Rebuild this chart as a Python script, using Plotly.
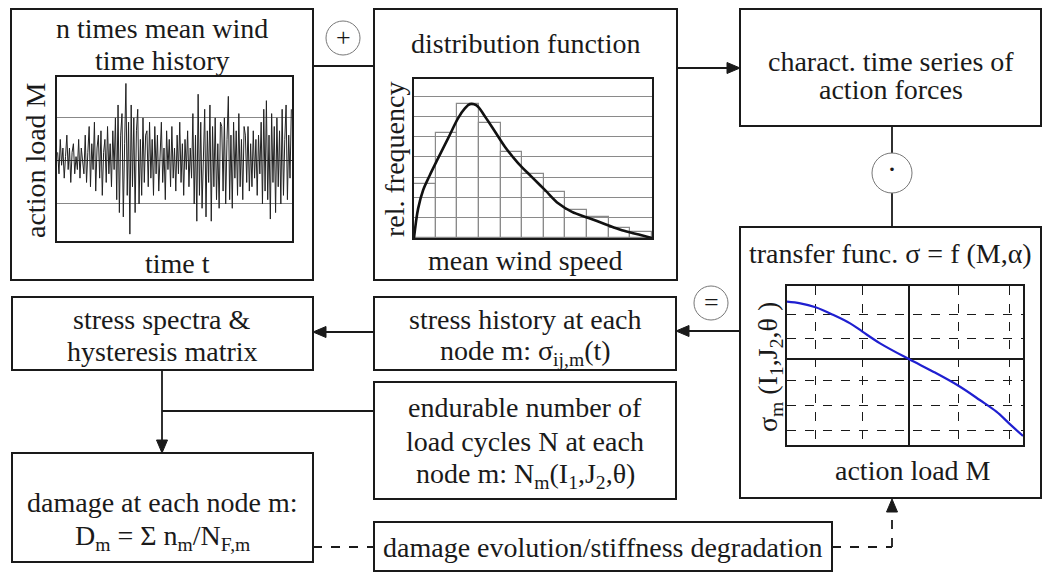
import plotly.graph_objects as go

# ---------------- data ----------------
# time history of action load M (relative units, read by eye)
load_history = [
    0.2,-0.3,0.5,-0.1,0.3,-0.4,0.1,0.6,-0.2,0.3,-0.5,0.2,0.4,-0.3,0.1,-0.2,0.5,-0.4,0.3,0.0,-0.3,0.6,-0.5,0.2,
    0.8,-0.6,0.4,-0.2,0.9,-0.7,0.3,0.6,-0.4,0.7,-0.8,0.2,0.5,-0.5,0.8,-0.3,0.4,-0.6,0.7,-0.2,
    1.0,-0.9,1.3,-1.2,0.6,1.1,-1.3,0.4,1.8,-0.8,0.9,-1.7,1.3,-0.6,1.0,-1.2,0.7,1.2,-1.0,0.5,-0.8,1.0,-0.5,0.6,
    0.7,-0.6,0.9,-0.4,0.5,-0.8,0.8,-0.3,0.6,-0.7,0.4,0.9,-0.5,0.3,-0.9,0.7,-0.2,0.5,-0.6,0.8,-0.4,0.3,-0.7,0.6,
    -0.3,0.9,-0.5,0.4,-0.8,0.5,-0.2,0.7,-0.6,0.3,-0.4,
    1.1,-1.0,0.6,-1.4,1.55,-0.8,0.9,-1.1,0.5,1.2,-1.3,0.7,-0.5,1.3,-1.4,0.8,-0.6,1.0,-0.9,0.4,-1.1,0.9,
    0.8,-0.7,1.0,-1.0,0.5,1.5,-0.9,0.6,-1.1,0.9,-0.4,0.7,-0.8,1.1,-0.6,0.5,-0.9,0.8,
    0.6,-0.5,0.8,-0.7,0.4,-0.6,0.7,-0.4,0.5,-0.8,0.6,-0.3,
    0.9,-1.0,1.2,-0.7,1.4,-0.9,0.6,-1.35,1.1,-0.5,0.8,-1.2,1.0,-0.6,0.7,-1.0,1.2,-0.8,0.5,1.3,-0.9,0.6,-0.4,1.2,
]
time_idx = list(range(len(load_history)))

# histogram of mean wind speed (relative frequency)
bin_centers = [0.5,1.5,2.5,3.5,4.5,5.5,6.5,7.5,8.5,9.5,10.5]
bin_freq = [2.66,5.16,6.61,5.70,4.26,3.17,2.28,1.40,1.04,0.50,0.30]
# fitted distribution curve
dist_x = [0,0.19,0.42,0.73,1.11,1.58,2.04,2.36,2.58,2.89,3.28,3.74,4.2,4.82,5.44,6.06,6.68,7.30,8.07,8.84,9.61,10.39,11]
dist_y = [0,1.45,2.36,3.1,3.93,4.93,5.92,6.41,6.61,6.55,6.0,5.26,4.51,3.69,3.02,2.36,1.70,1.29,0.99,0.68,0.38,0.17,0]

# transfer function sigma_m vs action load M
tf_x = [-3.68,-3.28,-2.82,-2.28,-1.78,-1.41,-0.88,0,0.72,1.49,2.12,2.62,3.0,3.42]
tf_y = [1.73,1.68,1.56,1.33,1.08,0.83,0.48,0,-0.37,-0.80,-1.22,-1.57,-1.92,-2.30]
tf_xgrid = [-2.82,-1.41,1.49,3.0]
tf_ygrid = [1.36,0.63,-0.64,-1.39,-2.12]

# ---------------- layout helpers ----------------
W, H = 1043, 572
FONT = "Liberation Serif"
FS = 28
INK = "#1a1a1a"

def X(p):
    return p / W

def Y(p):
    return 1 - p / H

shapes = []
annotations = []

def box(x0, y0, x1, y1, lw=2):
    shapes.append(dict(type="rect", xref="paper", yref="paper",
                       x0=X(x0), x1=X(x1), y0=Y(y1), y1=Y(y0),
                       line=dict(color=INK, width=lw), fillcolor="rgba(0,0,0,0)", layer="above"))

def line(x0, y0, x1, y1, dash="solid", lw=1.8):
    shapes.append(dict(type="line", xref="paper", yref="paper",
                       x0=X(x0), x1=X(x1), y0=Y(y0), y1=Y(y1),
                       line=dict(color=INK, width=lw, dash=dash)))

def head(tx, ty, d, L=13, w=5.5):
    if d == "right":
        pts = [(tx, ty), (tx - L, ty - w), (tx - L, ty + w)]
    elif d == "left":
        pts = [(tx, ty), (tx + L, ty - w), (tx + L, ty + w)]
    elif d == "down":
        pts = [(tx, ty), (tx - w, ty - L), (tx + w, ty - L)]
    else:
        pts = [(tx, ty), (tx - w, ty + L), (tx + w, ty + L)]
    path = "M " + " L ".join(f"{X(a)},{Y(b)}" for a, b in pts) + " Z"
    shapes.append(dict(type="path", xref="paper", yref="paper", path=path,
                       fillcolor=INK, line=dict(color=INK, width=1)))

def circle(cx, cy, r):
    shapes.append(dict(type="circle", xref="paper", yref="paper",
                       x0=X(cx - r), x1=X(cx + r), y0=Y(cy + r), y1=Y(cy - r),
                       line=dict(color="#777777", width=1), fillcolor="white"))

def text(x, y, s, angle=0, size=FS):
    annotations.append(dict(xref="paper", yref="paper", x=X(x), y=Y(y), text=s,
                            showarrow=False, xanchor="center", yanchor="middle",
                            textangle=angle, font=dict(family=FONT, size=size, color=INK)))

# boxes
box(11, 9, 313, 280)
box(374, 9, 677, 280)
box(740, 9, 1041, 126)
box(740, 227, 1041, 498)
box(12, 297, 313, 370)
box(374, 297, 676, 370)
box(374, 382, 676, 499)
box(12, 453, 313, 562)
box(374, 522, 832, 571)

# connectors
line(313, 66, 374, 66)
line(677, 68, 728, 68); head(740, 68, "right")
line(892, 126, 892, 227)
line(740, 331, 688, 331); head(676, 331, "left")
line(374, 332, 325, 332); head(313, 332, "left")
line(162, 370, 162, 441); head(162, 453, "down")
line(162, 411, 374, 411)
line(313, 547, 374, 547, dash="dash")
line(832, 547, 892, 547, dash="dash")
line(892, 547, 892, 511, dash="dash"); head(892, 499, "up")

circle(343, 38, 17)
circle(892, 173, 20)
circle(711, 303, 17)
text(343, 37, "+", size=26)
text(892, 168, "·", size=30)
text(711, 302, "=", size=26)

# texts
text(162, 28, "n times mean wind")
text(162, 60, "time history")
text(177, 263, "time t")
text(35, 160, "action load M", angle=-90)

text(525, 43, "distribution function")
text(525, 260, "mean wind speed")
text(394, 160, "rel. frequency", angle=-90)

text(891, 61, "charact. time series of")
text(891, 89, "action forces")

text(890, 253, "transfer func. σ = f (M,α)")
text(913, 470, "action load M")
text(769, 367, "σ<sub>m</sub> (I<sub>1</sub>,J<sub>2</sub>,θ )", angle=-90)

text(162, 319, "stress spectra &amp;")
text(162, 351, "hysteresis matrix")

text(525, 319, "stress history at each")
text(525, 352, "node m: σ<sub>ij,m</sub>(t)")

text(525, 407, "endurable number of")
text(525, 441, "load cycles N at each")
text(525, 475, "node m: N<sub>m</sub>(I<sub>1</sub>,J<sub>2</sub>,θ)")

text(162, 502, "damage at each node m:")
text(162, 537, "D<sub>m</sub> = Σ n<sub>m</sub>/N<sub>F,m</sub>")

text(603, 547, "damage evolution/stiffness degradation")

# ---------------- traces ----------------
fig = go.Figure()
fig.add_trace(go.Scatter(x=time_idx, y=load_history, mode="lines",
                         line=dict(color="#222222", width=1), xaxis="x", yaxis="y",
                         hoverinfo="skip"))
fig.add_trace(go.Bar(x=bin_centers, y=bin_freq, width=1.0,
                     marker=dict(color="rgba(0,0,0,0)", line=dict(color="#8a8a8a", width=1.2)),
                     xaxis="x2", yaxis="y2", hoverinfo="skip"))
fig.add_trace(go.Scatter(x=dist_x, y=dist_y, mode="lines", line=dict(color="#111111", width=2.6, shape="spline"),
                         xaxis="x2", yaxis="y2", hoverinfo="skip"))
fig.add_trace(go.Scatter(x=tf_x, y=tf_y, mode="lines", line=dict(color="#1f1fd0", width=2.2, shape="spline"),
                         xaxis="x3", yaxis="y3", hoverinfo="skip"))

frame = dict(showline=True, mirror=True, linecolor=INK, linewidth=2, ticks="",
             showticklabels=False, fixedrange=True)

layout = dict(
    width=W, height=H, margin=dict(l=0, r=0, t=0, b=0),
    paper_bgcolor="white", plot_bgcolor="white", showlegend=False, bargap=0,
    shapes=shapes, annotations=annotations,
    xaxis=dict(domain=[X(57), X(292)], range=[-0.5, len(load_history) - 0.5], showgrid=False,
               zeroline=False, anchor="y", **frame),
    yaxis=dict(domain=[Y(241), Y(77)], range=[-1.86, 1.95], tickvals=[-1, 1], showgrid=True,
               gridcolor="#888888", gridwidth=1, zeroline=True, zerolinecolor="#333333",
               zerolinewidth=1, anchor="x", **frame),
    xaxis2=dict(domain=[X(414), X(652)], range=[0, 11], showgrid=False, zeroline=False,
                anchor="y2", **frame),
    yaxis2=dict(domain=[Y(238), Y(79)], range=[0, 7.85], tickvals=[1, 2, 3, 4, 5, 6, 7],
                showgrid=True, gridcolor="#8a8a8a", gridwidth=1, zeroline=False, anchor="x2", **frame),
    xaxis3=dict(domain=[X(787), X(1023)], range=[-3.68, 3.42], tickvals=tf_xgrid, showgrid=True,
                gridcolor=INK, gridwidth=1, griddash="dash", zeroline=True, zerolinecolor=INK,
                zerolinewidth=2, anchor="y3", **frame),
    yaxis3=dict(domain=[Y(445), Y(286)], range=[-2.57, 2.2], tickvals=tf_ygrid, showgrid=True,
                gridcolor=INK, gridwidth=1, griddash="dash", zeroline=True, zerolinecolor=INK,
                zerolinewidth=2, anchor="x3", **frame),
)
fig.update_layout(**layout)
fig.write_html("out.html")
